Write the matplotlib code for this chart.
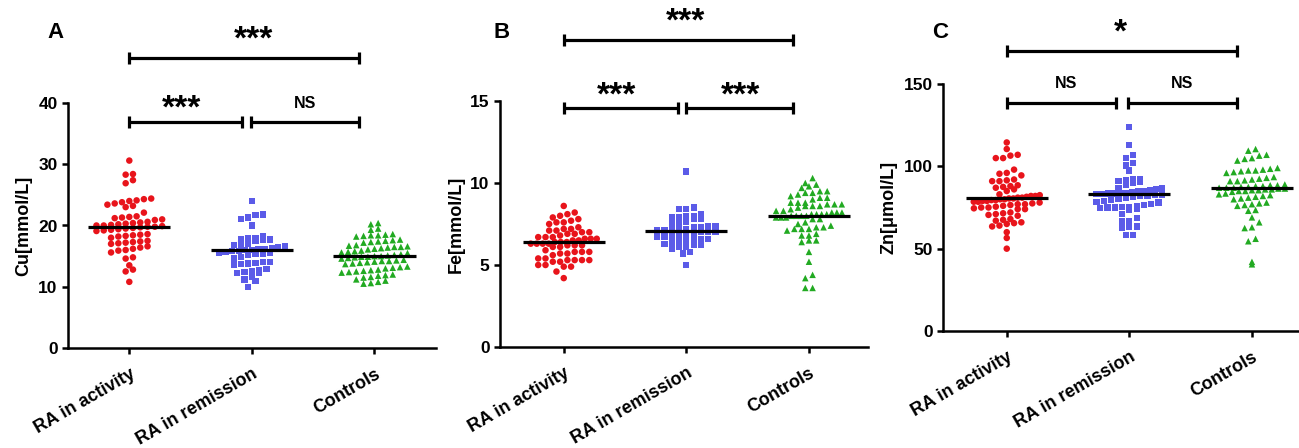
import numpy as np
import matplotlib
matplotlib.use("Agg")
import matplotlib.pyplot as plt

plt.rcParams['font.family'] = ['Liberation Sans', 'DejaVu Sans']
plt.rcParams['font.weight'] = 'bold'

W, H = 1299, 448

categories = ["RA in activity", "RA in remission", "Controls"]
colors = ["#e8141b", "#5b5be8", "#22aa22"]
markers = ["o", "s", "^"]

cu_activity = [30.6, 28.4, 28.3, 27.4, 26.9,
               24.4, 24.3, 24.1, 24.0, 23.8, 23.6, 23.4, 23.2, 23.0,
               22.1,
               21.5, 21.4, 21.3, 21.2, 21.0, 20.9,
               20.6, 20.5, 20.4, 20.3, 20.2, 20.1, 20.0, 20.0, 19.9, 19.8, 19.8, 19.7, 19.6, 19.5, 19.4, 19.3, 19.2, 19.1,
               18.6, 18.5, 18.4, 18.3, 18.2, 18.0,
               17.5, 17.4, 17.3, 17.2, 17.1, 17.0,
               16.6, 16.4, 16.2, 16.0, 15.9,
               15.6, 14.8, 14.6, 13.5, 12.8, 12.5, 10.8]
cu_remission = [24.0,
                21.8, 21.7, 21.3, 21.1,
                20.1, 19.9,
                18.2, 18.0, 17.9, 17.8, 17.7, 17.6, 17.5,
                17.0, 16.9, 16.8, 16.6, 16.5,
                16.3, 16.2, 16.1, 16.0, 16.0, 15.9, 15.8, 15.7, 15.6, 15.5, 15.4, 15.3, 15.2,
                14.8, 14.6,
                14.1, 14.0, 13.9, 13.8, 13.7, 13.5,
                12.9, 12.7, 12.6, 12.4, 12.3, 12.2,
                11.6, 11.2, 11.0,
                10.0]
cu_controls = [20.4, 20.2,
               19.5, 19.3,
               18.6, 18.5, 18.4, 18.4, 18.3, 18.2,
               17.7, 17.6, 17.5, 17.4, 17.3, 17.2,
               16.8, 16.7, 16.6, 16.5, 16.5, 16.4, 16.3, 16.2, 16.1,
               15.9, 15.8, 15.7, 15.6, 15.5,
               15.3, 15.2, 15.1, 15.0, 15.0, 14.9, 14.9, 14.8, 14.7, 14.6,
               14.4, 14.3, 14.2, 14.2, 14.1, 14.0, 13.9, 13.8, 13.7,
               13.3, 13.2, 13.1, 13.0,
               12.8, 12.7, 12.6, 12.5, 12.4, 12.3,
               12.0, 11.9, 11.8, 11.6, 11.5,
               11.2, 11.0, 10.8, 10.6, 10.5]

fe_activity = [8.6,
               8.2, 8.1, 8.0, 7.9,
               7.8, 7.7, 7.6, 7.6, 7.5,
               7.3, 7.2, 7.2, 7.1, 7.1, 7.0, 7.0, 6.9, 6.9,
               6.8, 6.7, 6.7, 6.7, 6.6, 6.6, 6.6, 6.5, 6.5,
               6.4, 6.4, 6.4, 6.3, 6.3, 6.3, 6.3, 6.2, 6.2, 6.2, 6.1, 6.1,
               5.9, 5.8, 5.8, 5.8, 5.7, 5.7, 5.6,
               5.4, 5.4, 5.3, 5.3, 5.3, 5.3, 5.2, 5.2,
               5.0, 5.0, 4.9, 4.9,
               4.6, 4.2]
fe_remission = [10.7,
                8.5, 8.4, 8.4,
                8.1, 8.0, 8.0, 7.9, 7.9, 7.8, 7.8,
                7.6, 7.5, 7.5, 7.4, 7.4, 7.3, 7.3,
                7.2, 7.2, 7.1, 7.1, 7.1, 7.0, 7.0, 7.0, 6.9, 6.9, 6.9,
                6.8, 6.7, 6.7, 6.6, 6.6, 6.5, 6.5, 6.5, 6.4,
                6.3, 6.2, 6.2, 6.1, 6.1, 6.0,
                5.8, 5.7,
                5.0]
fe_controls = [10.3,
               10.0, 9.9, 9.8, 9.7,
               9.5, 9.5, 9.4, 9.4, 9.3,
               9.2, 9.1, 9.1, 9.0,
               8.8, 8.8, 8.8, 8.7, 8.7, 8.7, 8.6, 8.6, 8.6, 8.5,
               8.4, 8.3, 8.3, 8.2, 8.2, 8.2, 8.1, 8.1, 8.1, 8.1, 8.0, 8.0, 8.0, 8.0, 7.9, 7.9, 7.9, 7.8, 7.8,
               7.6, 7.5, 7.4,
               7.3, 7.3, 7.2, 7.2, 7.2, 7.1,
               6.9, 6.8, 6.8,
               6.5, 6.5, 6.4,
               5.8, 5.2, 4.4, 4.2, 3.6, 3.6]

zn_activity = [114.5, 110.5, 107.0, 106.5, 105.0, 105.0,
               98.0,
               96.0, 95.5, 94.5,
               92.0, 91.5, 91.0, 91.0,
               88.5, 88.0, 87.5, 87.0, 86.0, 85.0,
               83.0, 82.5, 82.0, 82.0, 81.5, 81.0, 81.0, 80.5, 80.5, 80.0, 80.0, 79.5, 79.5, 79.0, 79.0, 78.5, 78.5, 78.0,
               77.5, 77.0, 77.0, 76.5, 76.0,
               75.5, 75.0, 75.0, 74.5, 74.0, 74.0,
               72.0, 71.5, 71.0, 70.5, 70.0,
               68.0, 67.5, 67.0, 66.0, 65.5, 65.0, 64.0, 63.5,
               60.0, 56.5, 50.0]
zn_remission = [124.0, 113.0, 107.0, 105.0, 102.0, 100.5, 97.5,
                92.5, 92.0, 91.5, 91.0, 90.5, 90.0, 89.0,
                87.0, 86.5, 86.0, 85.5, 85.0, 85.0, 84.5, 84.0, 84.0, 83.5, 83.5, 83.0, 83.0, 82.5, 82.5, 82.0, 82.0, 81.5, 81.0, 80.5,
                79.5, 79.0, 78.5, 78.0,
                77.0, 76.5, 76.0, 75.5, 75.5, 75.0, 75.0, 74.5, 74.0, 73.5,
                71.0, 68.5, 67.0, 66.5,
                63.5, 63.0, 62.5,
                58.5, 58.5]
zn_controls = [110.5, 109.5,
               107.0, 106.5, 105.0, 104.5, 103.5,
               99.0, 98.5, 98.0, 97.5, 97.5, 97.0, 96.5, 96.0,
               93.5, 93.0, 92.5, 92.0, 91.5, 91.0, 91.0,
               89.0, 88.5, 88.5, 88.0, 88.0, 87.5, 87.5, 87.0, 87.0, 87.0, 86.5, 86.5, 86.0, 86.0, 85.5, 85.5, 85.0, 85.0, 84.5,
               83.5, 83.0, 82.5, 82.0, 81.5, 81.0, 80.5, 80.0,
               78.0, 77.5, 77.0, 76.5, 76.0,
               73.5, 73.0,
               69.0, 66.0, 63.0, 62.5,
               56.0, 54.5, 42.0, 40.5]

cu_means = [19.8, 16.0, 15.0]
fe_means = [6.4, 7.1, 8.0]
zn_means = [80.5, 83.0, 87.0]

panel_letters = ["A", "B", "C"]
ylabels = ["Cu[mmol/L]", "Fe[mmol/L]", "Zn[\u03bcmol/L]"]
yticks = [[0, 10, 20, 30, 40], [0, 5, 10, 15], [0, 50, 100, 150]]
# significance: (x0, x1, y, label, label_x, label_y)
sig_cu = [(0, 1.87, 47.3, "***", 1.01, 51.4), (0, 0.92, 36.9, "***", 0.43, 40.0), (0.99, 1.87, 36.9, "NS", 1.43, 40.0)]
sig_fe = [(0, 1.87, 18.7, "***", 0.99, 20.2), (0, 0.93, 14.6, "***", 0.43, 15.7), (1.0, 1.87, 14.6, "***", 1.44, 15.7)]
sig_zn = [(0, 1.88, 170.0, "*", 0.93, 184.6), (0, 0.89, 138.4, "NS", 0.48, 150.0), (0.99, 1.88, 138.4, "NS", 1.43, 150.0)]

panels = [
    dict(groups=[cu_activity, cu_remission, cu_controls], means=cu_means, sig=sig_cu,
         left=68, y0=348, ytop=103, xl=-0.5),
    dict(groups=[fe_activity, fe_remission, fe_controls], means=fe_means, sig=sig_fe,
         left=500, y0=347, ytop=101, xl=-0.52),
    dict(groups=[zn_activity, zn_remission, zn_controls], means=zn_means, sig=sig_zn,
         left=943, y0=331, ytop=84, xl=-0.52),
]
letter_pos = [(55, 33), (502, 33), (940, 33)]
CAT_SPACING = 122.6


def row_layout(vals, px_per_y, row_h=6.8, spacing=7.3, max_half=33.0):
    """Prism-like scatter layout: bin values into rows, spread each row symmetrically."""
    ys = np.asarray(vals, float) * px_per_y
    rows = np.floor(ys / row_h).astype(int)
    xs = np.zeros(len(ys))
    for r in np.unique(rows):
        idx = np.where(rows == r)[0]
        idx = idx[np.argsort(ys[idx])]
        n = len(idx)
        sp = spacing if n <= 1 else min(spacing, 2 * max_half / (n - 1))
        offs = (np.arange(n) - (n - 1) / 2.0) * sp
        xs[idx] = offs
    return xs


fig = plt.figure(figsize=(W / 100, H / 100), dpi=100)

for p_i, p in enumerate(panels):
    ytk = yticks[p_i]
    axw = 3 * CAT_SPACING
    axh = p['y0'] - p['ytop']
    ax = fig.add_axes([p['left'] / W, 1 - p['y0'] / H, axw / W, axh / H])
    ax.set_xlim(p['xl'], p['xl'] + 3)
    ax.set_ylim(0, ytk[-1])
    px_per_y = axh / ytk[-1]
    px_per_x = axw / 3.0
    for g_i, vals in enumerate(p['groups']):
        offs = row_layout(vals, px_per_y) / px_per_x
        ax.scatter(g_i + offs, vals, s=22 if markers[g_i] != 's' else 20,
                   marker=markers[g_i], color=colors[g_i], edgecolors='none',
                   zorder=3, clip_on=False)
        ax.plot([g_i - 0.335, g_i + 0.335], [p['means'][g_i]] * 2, color='black',
                lw=2.3, zorder=4, solid_capstyle='butt')
    cap = 6 / px_per_y
    for x0, x1, yb, lab, lx, ly in p['sig']:
        ax.plot([x0, x1], [yb, yb], color='black', lw=2.3, clip_on=False, zorder=5,
                solid_capstyle='butt')
        for xe in (x0, x1):
            ax.plot([xe, xe], [yb - cap, yb + cap], color='black', lw=2.3,
                    clip_on=False, zorder=5, solid_capstyle='butt')
        if lab == "NS":
            ax.text(lx, ly, lab, ha='center', va='center', fontsize=11.5,
                    fontweight='bold', clip_on=False)
        else:
            ax.text(lx, ly - 15 / px_per_y, lab, ha='center', va='baseline',
                    fontsize=24, fontweight='bold', clip_on=False)

    for s in ['top', 'right']:
        ax.spines[s].set_visible(False)
    for s in ['left', 'bottom']:
        ax.spines[s].set_linewidth(1.8)
    ax.set_yticks(ytk)
    ax.set_xticks(range(3))
    ax.set_xticklabels(categories, rotation=30, ha='right', va='top',
                       rotation_mode='anchor', fontsize=13, fontweight='bold')
    ax.tick_params(axis='both', width=1.8, length=4.5)
    ax.tick_params(axis='y', labelsize=12.5, pad=3)
    ax.tick_params(axis='x', pad=8)
    for t in ax.get_yticklabels():
        t.set_fontweight('bold')
    ax.set_ylabel(ylabels[p_i], fontsize=13, fontweight='bold', labelpad=4)
    lx, ly = letter_pos[p_i]
    fig.text(lx / W, 1 - ly / H, panel_letters[p_i], ha='center', va='center',
             fontsize=16, fontweight='bold')

fig.savefig("out.png", dpi=100)
